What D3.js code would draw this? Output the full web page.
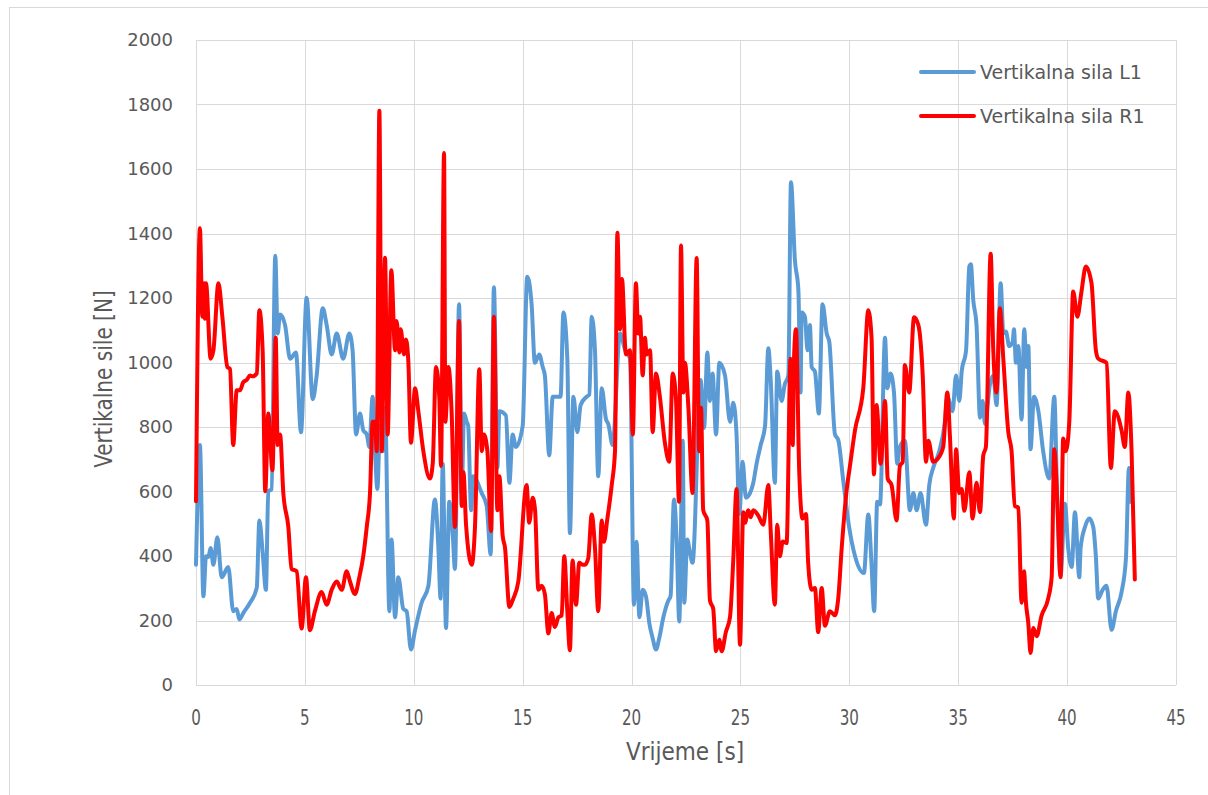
<!DOCTYPE html>
<html>
<head>
<meta charset="utf-8">
<script src="https://d3js.org/d3.v7.min.js"></script>
<style>
  body { margin: 0; background: #fff; }
  .grid line { stroke: #d9d9d9; stroke-width: 1; }
  .tick-y { font-family: "DejaVu Sans", Verdana, sans-serif; font-size: 18px; fill: #595959; }
  .tick-x { font-family: "Liberation Sans Narrow", "DejaVu Sans Condensed", sans-serif; font-size: 21px; fill: #595959; }
  .title { font-family: "Liberation Sans Narrow", "DejaVu Sans Condensed", sans-serif; font-size: 24px; fill: #595959; }
  .legend { font-family: "DejaVu Sans", Verdana, sans-serif; font-size: 19px; fill: #595959; }
</style>
</head>
<body>
<svg id="chart" width="1208" height="795"></svg>
<script>
  // Vertikalna sila R1 (red)
  const timeR = [
    0, 0.18, 0.29, 0.37, 0.41, 0.46, 0.67, 0.80, 1.03, 1.21,
    1.44, 1.56, 1.71, 1.87, 2.02, 2.17, 2.33, 2.48, 2.60, 2.79,
    2.91, 3.06, 3.18, 3.32, 3.51, 3.66, 3.75, 3.86, 4.01, 4.24,
    4.39, 4.62, 4.85, 5.05, 5.23, 5.46, 5.77, 6.00, 6.23, 6.46,
    6.69, 6.92, 7.07, 7.30, 7.50, 7.68, 7.84, 7.99, 8.11, 8.22,
    8.30, 8.42, 8.53, 8.68, 8.80, 8.97, 9.14, 9.21, 9.34, 9.40,
    9.55, 9.64, 9.75, 9.87, 10.06, 10.21, 10.44, 10.74, 10.87, 11.02,
    11.17, 11.25, 11.39, 11.45, 11.59, 11.74, 11.89, 12.08, 12.20, 12.28,
    12.40, 12.66, 12.81, 13.01, 13.12, 13.22, 13.38, 13.55, 13.68, 13.84,
    13.93, 14.08, 14.19, 14.39, 14.57, 14.80, 15.18, 15.30, 15.46, 15.57,
    15.72, 15.87, 16.02, 16.18, 16.33, 16.48, 16.64, 16.79, 16.91, 17.05,
    17.17, 17.29, 17.45, 17.60, 17.75, 17.86, 18.01, 18.17, 18.32, 18.47,
    18.63, 18.73, 18.89, 19.09, 19.24, 19.35, 19.47, 19.56, 19.74, 19.93,
    20.06, 20.20, 20.31, 20.39, 20.51, 20.62, 20.69, 20.85, 20.97, 21.12,
    21.30, 21.53, 21.73, 21.89, 22.04, 22.18, 22.27, 22.38, 22.45, 22.61,
    22.80, 22.99, 23.10, 23.19, 23.29, 23.48, 23.60, 23.75, 23.88, 24.03,
    24.14, 24.33, 24.52, 24.67, 24.82, 24.98, 25.13, 25.21, 25.36, 25.47,
    25.59, 25.82, 26.05, 26.28, 26.39, 26.58, 26.69, 26.81, 26.94, 27.12,
    27.30, 27.40, 27.46, 27.55, 27.70, 27.85, 28.01, 28.11, 28.27, 28.42,
    28.57, 28.73, 28.88, 29.11, 29.34, 29.49, 29.65, 29.87, 30.03, 30.26,
    30.64, 30.87, 31.02, 31.13, 31.25, 31.44, 31.64, 31.76, 31.94, 32.17,
    32.32, 32.45, 32.55, 32.75, 32.97, 33.17, 33.37, 33.52, 33.63, 33.85,
    34.04, 34.31, 34.50, 34.62, 34.80, 34.90, 35.05, 35.16, 35.28, 35.51,
    35.66, 35.84, 36.00, 36.15, 36.27, 36.49, 36.61, 36.76, 36.91, 37.07,
    37.30, 37.45, 37.60, 37.76, 37.91, 38.02, 38.11, 38.22, 38.32, 38.45,
    38.60, 38.83, 39.13, 39.29, 39.41, 39.55, 39.70, 39.82, 39.94, 40.10,
    40.28, 40.47, 40.66, 40.86, 41.12, 41.32, 41.43, 41.81, 42.01, 42.19,
    42.50, 42.65, 42.81, 42.96, 43.11
  ];
  const forceR = [
    570, 1416, 1142, 1246, 1136, 1246, 1012, 1038, 1246, 1142,
    986, 980, 744, 914, 914, 939, 946, 960, 957, 966,
    1162, 1038, 601, 842, 666, 1077, 744, 777, 595, 490,
    360, 353, 175, 334, 170, 229, 288, 249, 295, 321,
    295, 353, 321, 282, 334, 399, 490, 595, 816, 816,
    725, 1781, 725, 1325, 777, 1286, 1038, 1129, 1031, 1103,
    1025, 1071, 1003, 751, 920, 849, 725, 640, 686, 986,
    894, 679, 1650, 816, 986, 842, 490, 1129, 555, 660,
    497, 373, 490, 979, 725, 777, 725, 477, 1142, 542,
    647, 464, 425, 242, 268, 321, 620, 503, 581, 542,
    295, 308, 282, 160, 223, 180, 210, 216, 399, 229,
    108, 386, 249, 379, 373, 373, 392, 529, 425, 229,
    510, 444, 516, 620, 725, 1402, 1103, 1259, 1025, 1038,
    777, 1246, 1090, 1142, 960, 1077, 1025, 1038, 784, 966,
    894, 751, 692, 966, 886, 568, 1363, 907, 999, 860,
    595, 1324, 725, 860, 542, 510, 262, 236, 105, 140,
    105, 164, 210, 386, 608, 125, 536, 503, 542, 520,
    542, 525, 497, 620, 477, 249, 497, 399, 445, 440,
    1012, 744, 1012, 1103, 660, 516, 530, 379, 295, 301,
    164, 301, 184, 229, 216, 268, 425, 600, 680, 790,
    920, 1162, 1077, 653, 868, 686, 881, 640, 620, 510,
    679, 692, 992, 907, 1140, 1116, 960, 692, 757, 692,
    700, 738, 907, 770, 516, 731, 595, 608, 540, 660,
    516, 627, 536, 712, 738, 1337, 1038, 907, 1168, 1012,
    784, 725, 555, 550, 255, 353, 255, 190, 99, 177,
    151, 216, 268, 334, 731, 568, 334, 764, 725, 816,
    1220, 1142, 1220, 1298, 1246, 1038, 1012, 999, 673, 849,
    790, 738, 907, 725, 327
  ];

  // Vertikalna sila L1 (blue)
  const timeL = [
    0, 0.18, 0.34, 0.46, 0.57, 0.67, 0.80, 0.98, 1.18, 1.48,
    1.71, 1.87, 1.99, 2.17, 2.48, 2.79, 2.91, 3.06, 3.21, 3.32,
    3.47, 3.64, 3.75, 3.86, 4.09, 4.32, 4.59, 4.82, 5.08, 5.36,
    5.54, 5.82, 6.00, 6.23, 6.46, 6.76, 7.04, 7.19, 7.35, 7.53,
    7.68, 7.84, 7.96, 8.11, 8.22, 8.33, 8.45, 8.57, 8.68, 8.88,
    8.98, 9.14, 9.29, 9.52, 9.67, 9.87, 10.06, 10.36, 10.67, 10.97,
    11.13, 11.23, 11.33, 11.48, 11.63, 11.79, 11.89, 12.08, 12.20, 12.31,
    12.43, 12.50, 12.63, 12.73, 13.12, 13.35, 13.53, 13.68, 13.84, 13.93,
    14.23, 14.39, 14.54, 14.69, 15.00, 15.21, 15.41, 15.56, 15.76, 15.92,
    16.02, 16.22, 16.38, 16.74, 16.87, 17.05, 17.17, 17.33, 17.51, 17.66,
    17.94, 18.06, 18.17, 18.32, 18.47, 18.63, 18.83, 18.93, 19.13, 19.47,
    19.70, 19.93, 20.11, 20.23, 20.36, 20.51, 20.66, 20.82, 20.97, 21.12,
    21.27, 21.46, 21.69, 21.79, 21.95, 22.07, 22.19, 22.35, 22.42, 22.56,
    22.68, 22.80, 23.17, 23.33, 23.48, 23.60, 23.72, 23.88, 24.03, 24.29,
    24.52, 24.67, 24.82, 24.95, 25.10, 25.25, 25.44, 25.59, 25.74, 25.93,
    26.13, 26.28, 26.39, 26.58, 26.69, 26.89, 27.04, 27.20, 27.32, 27.50,
    27.66, 27.76, 27.81, 27.96, 28.08, 28.19, 28.27, 28.42, 28.60, 28.77,
    28.96, 29.08, 29.34, 29.49, 29.72, 29.99, 30.26, 30.67, 30.87, 31.02,
    31.14, 31.28, 31.41, 31.64, 31.74, 31.89, 32.05, 32.20, 32.32, 32.55,
    32.78, 32.94, 33.09, 33.27, 33.52, 33.67, 33.85, 34.13, 34.39, 34.50,
    34.74, 34.90, 35.05, 35.16, 35.36, 35.51, 35.58, 35.69, 35.84, 36.00,
    36.12, 36.23, 36.46, 36.61, 36.76, 36.95, 37.07, 37.19, 37.34, 37.50,
    37.56, 37.65, 37.76, 37.91, 38.03, 38.14, 38.22, 38.32, 38.48, 38.68,
    38.90, 39.18, 39.41, 39.55, 39.70, 39.90, 40.05, 40.21, 40.36, 40.56,
    40.62, 40.82, 41.02, 41.20, 41.32, 41.43, 41.63, 41.81, 42.04, 42.24,
    42.50, 42.70, 42.84, 42.92
  ];
  const forceL = [
    373, 744, 275, 399, 397, 425, 373, 458, 334, 366,
    229, 236, 203, 223, 255, 301, 510, 412, 295, 601,
    607, 1331, 1090, 1149, 1116, 1012, 1031, 784, 1201, 886,
    960, 1168, 1116, 1025, 1090, 1012, 1090, 1038, 777, 842,
    790, 777, 738, 894, 725, 608, 803, 725, 860, 229,
    451, 210, 334, 236, 229, 110, 170, 255, 307, 575,
    425, 268, 686, 177, 568, 464, 360, 1181, 595, 842,
    816, 803, 542, 647, 595, 555, 405, 1233, 673, 849,
    836, 627, 777, 738, 803, 1266, 1181, 999, 1025, 986,
    960, 712, 894, 894, 1155, 1012, 471, 894, 784, 868,
    894, 900, 1142, 1038, 647, 920, 823, 810, 744, 1090,
    1040, 1012, 249, 444, 210, 295, 275, 190, 145, 110,
    145, 210, 262, 275, 575, 451, 197, 757, 255, 451,
    412, 379, 946, 797, 1031, 881, 966, 777, 999, 960,
    816, 875, 777, 530, 692, 581, 595, 627, 686, 744,
    803, 1044, 946, 627, 972, 881, 933, 960, 1559, 1318,
    1225, 907, 1155, 1142, 1038, 1116, 986, 972, 842, 1181,
    1090, 1064, 777, 760, 634, 490, 400, 347, 529, 373,
    229, 568, 560, 1077, 920, 966, 907, 686, 738, 757,
    542, 595, 542, 595, 497, 620, 673, 725, 816, 894,
    849, 960, 881, 972, 1038, 1298, 1305, 1194, 1116, 829,
    881, 810, 933, 960, 868, 1246, 1090, 1096, 1051, 1064,
    1103, 999, 1051, 823, 1103, 986, 1051, 731, 894, 849,
    725, 640, 894, 568, 339, 562, 425, 366, 536, 334,
    425, 490, 516, 490, 399, 268, 295, 308, 171, 229,
    288, 392, 673, 568
  ];

  const xTicks = [0, 5, 10, 15, 20, 25, 30, 35, 40, 45];
  const yTicks = [0, 200, 400, 600, 800, 1000, 1200, 1400, 1600, 1800, 2000];
  const seriesNames = ["Vertikalna sila L1", "Vertikalna sila R1"];
  const seriesColors = ["#5b9bd5", "#ff0000"];

  const margin = {left: 196, right: 32, top: 40, bottom: 110};
  const width = 1208, height = 795;

  const svg = d3.select("#chart");

  // outer chart border
  svg.append("rect")
    .attr("x", 9.5).attr("y", 7.5)
    .attr("width", width).attr("height", height)
    .attr("fill", "white").attr("stroke", "#d9d9d9");

  const x = d3.scaleLinear().domain([0, 45]).range([margin.left, width - margin.right]);
  const y = d3.scaleLinear().domain([0, 2000]).range([height - margin.bottom, margin.top]);

  const grid = svg.append("g").attr("class", "grid");
  grid.selectAll(".h").data(yTicks).enter().append("line")
    .attr("x1", x(0)).attr("x2", x(45))
    .attr("y1", d => Math.round(y(d)) + 0.5).attr("y2", d => Math.round(y(d)) + 0.5);
  grid.selectAll(".v").data(xTicks).enter().append("line")
    .attr("y1", y(0)).attr("y2", y(2000))
    .attr("x1", d => Math.round(x(d)) + 0.5).attr("x2", d => Math.round(x(d)) + 0.5);

  // tick labels
  svg.append("g").selectAll("text").data(yTicks).enter().append("text")
    .attr("class", "tick-y")
    .attr("x", 173).attr("y", d => y(d))
    .attr("dy", "0.36em")
    .attr("text-anchor", "end")
    .text(d => d);

  // x labels are drawn condensed like the original
  svg.append("g").selectAll("text").data(xTicks).enter().append("text")
    .attr("class", "tick-x")
    .attr("transform", d => `translate(${x(d)},${y(0) + 32}) scale(0.8,1)`)
    .attr("dy", "0.36em")
    .attr("text-anchor", "middle")
    .text(d => d);

  // axis titles
  svg.append("text").attr("class", "title")
    .attr("x", 685).attr("y", 751).attr("dy", "0.36em")
    .attr("text-anchor", "middle")
    .text("Vrijeme [s]");

  svg.append("text").attr("class", "title")
    .attr("transform", "translate(103,379) rotate(-90) scale(0.93,1)")
    .attr("dy", "0.36em")
    .attr("text-anchor", "middle")
    .text("Vertikalne sile [N]");

  const line = d3.line()
    .x(d => x(d[0]))
    .y(d => y(d[1]))
    .curve(d3.curveMonotoneX);

  const dataL = d3.zip(timeL, forceL);
  const dataR = d3.zip(timeR, forceR);

  [dataL, dataR].forEach((data, i) => {
    svg.append("path")
      .datum(data)
      .attr("fill", "none")
      .attr("stroke", seriesColors[i])
      .attr("stroke-width", 4)
      .attr("stroke-linejoin", "round")
      .attr("stroke-linecap", "round")
      .attr("d", line);
  });

  // legend
  const legend = svg.append("g").selectAll("g").data(seriesNames).enter().append("g")
    .attr("transform", (d, i) => `translate(921, ${72 + i * 44})`);
  legend.append("line")
    .attr("x1", 0).attr("x2", 53)
    .attr("stroke", (d, i) => seriesColors[i])
    .attr("stroke-width", 4)
    .attr("stroke-linecap", "round");
  legend.append("text")
    .attr("class", "legend")
    .attr("x", 59).attr("dy", "0.36em")
    .text(d => d);
</script>
</body>
</html>
